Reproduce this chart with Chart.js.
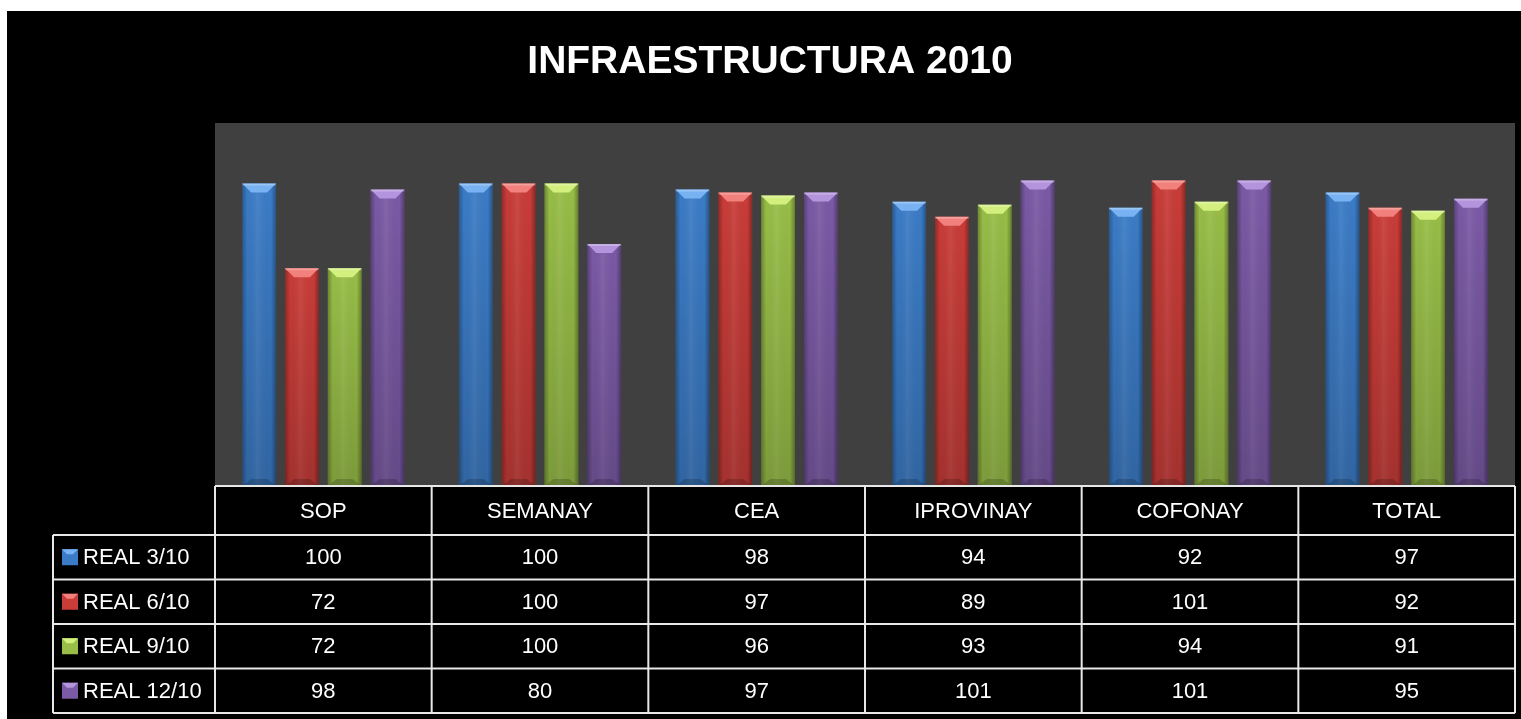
<!DOCTYPE html>
<html>
<head>
<meta charset="utf-8">
<script src="https://cdn.jsdelivr.net/npm/chart.js@4.4.1/dist/chart.umd.min.js"></script>
<style>
  html, body { margin: 0; padding: 0; background: #ffffff; }
  #wrap { width: 1521px; height: 719px; position: relative; }
</style>
</head>
<body>
<div id="wrap"><canvas id="grafica"></canvas></div>
<script>
// datos
const titulo = "INFRAESTRUCTURA 2010";
const categorias = ["SOP", "SEMANAY", "CEA", "IPROVINAY", "COFONAY", "TOTAL"];
const series = ["REAL 3/10", "REAL 6/10", "REAL 9/10", "REAL 12/10"];
const real3 = [100, 100, 98, 94, 92, 97];
const real6 = [72, 100, 97, 89, 101, 92];
const real9 = [72, 100, 96, 93, 94, 91];
const real12 = [98, 80, 97, 101, 101, 95];

const valores = [real3, real6, real9, real12];
const colores = ["#3b7cc7", "#c93c38", "#98be47", "#7b5aa6"];
const coloresTop = ["#78b2f2", "#f2807c", "#d3f07f", "#b394dd"];

const FUENTE = '"Liberation Sans", Arial, sans-serif';

// =======================
// FONDO (marco negro + area gris + titulo)
// =======================
const fondo = {
  id: "fondo",
  beforeDraw(chart) {
    const { ctx, width, height, chartArea: a } = chart;
    ctx.save();
    ctx.fillStyle = "#ffffff";
    ctx.fillRect(0, 0, width, height);
    ctx.fillStyle = "#000000";
    ctx.fillRect(7, 11, width - 7, height - 11);
    ctx.fillStyle = "#404040";
    ctx.fillRect(a.left, a.top, a.right - a.left, a.bottom - a.top);

    ctx.fillStyle = "#ffffff";
    ctx.font = "bold 39px " + FUENTE;
    ctx.textAlign = "center";
    ctx.textBaseline = "middle";
    ctx.fillText(titulo, 770, 62);
    ctx.restore();
  }
};

// =======================
// BISEL DE LAS BARRAS
// =======================
const bisel = {
  id: "bisel",
  afterDatasetsDraw(chart) {
    const ctx = chart.ctx;
    chart.data.datasets.forEach((ds, di) => {
      chart.getDatasetMeta(di).data.forEach(bar => {
        const w = bar.width, l = bar.x - w / 2, r = bar.x + w / 2;
        const t = bar.y, b = bar.base;
        ctx.save();
        // sombreado horizontal
        let g = ctx.createLinearGradient(l, 0, r, 0);
        g.addColorStop(0, "rgba(0,0,0,0.28)");
        g.addColorStop(0.15, "rgba(0,0,0,0)");
        g.addColorStop(0.45, "rgba(255,255,255,0.07)");
        g.addColorStop(0.85, "rgba(0,0,0,0)");
        g.addColorStop(1, "rgba(0,0,0,0.32)");
        ctx.fillStyle = g;
        ctx.fillRect(l, t, w, b - t);
        // oscuro hacia abajo
        g = ctx.createLinearGradient(0, t, 0, b);
        g.addColorStop(0, "rgba(0,0,0,0)");
        g.addColorStop(1, "rgba(0,0,0,0.18)");
        ctx.fillStyle = g;
        ctx.fillRect(l, t, w, b - t);
        // bisel superior
        ctx.fillStyle = coloresTop[di];
        ctx.beginPath();
        ctx.moveTo(l, t);
        ctx.lineTo(r, t);
        ctx.lineTo(r - 9, t + 9);
        ctx.lineTo(l + 9, t + 9);
        ctx.closePath();
        ctx.fill();
        ctx.fillStyle = "rgba(255,255,255,0.25)";
        ctx.fillRect(l, t, w, 2);
        // base
        ctx.fillStyle = "rgba(0,0,0,0.18)";
        ctx.beginPath();
        ctx.moveTo(l + 9, b - 7);
        ctx.lineTo(r - 9, b - 7);
        ctx.lineTo(r, b);
        ctx.lineTo(l, b);
        ctx.closePath();
        ctx.fill();
        ctx.restore();
      });
    });
  }
};

// =======================
// TABLA DE DATOS
// =======================
const tabla = {
  id: "tabla",
  afterDraw(chart) {
    const { ctx, chartArea: a, scales: { x } } = chart;
    const n = categorias.length;
    const colW = (a.right - a.left) / n;
    const headTop = a.bottom;
    const headH = 49;
    const rowH = 44.5;
    const labelLeft = a.left - 162;
    const rowsTop = headTop + headH;
    const bottom = rowsTop + rowH * series.length;

    ctx.save();
    ctx.fillStyle = "#000000";
    ctx.fillRect(a.left, headTop, a.right - a.left, bottom - headTop);
    ctx.fillRect(labelLeft, rowsTop, a.left - labelLeft, bottom - rowsTop);

    ctx.strokeStyle = "#e8e8e8";
    ctx.lineWidth = 2;
    ctx.beginPath();
    // horizontales
    ctx.moveTo(a.left, headTop); ctx.lineTo(a.right, headTop);
    for (let r = 0; r <= series.length; r++) {
      const y = rowsTop + r * rowH;
      ctx.moveTo(labelLeft, y); ctx.lineTo(a.right, y);
    }
    // verticales
    ctx.moveTo(labelLeft, rowsTop); ctx.lineTo(labelLeft, bottom);
    for (let i = 0; i <= n; i++) {
      const xx = a.left + i * colW;
      ctx.moveTo(xx, headTop); ctx.lineTo(xx, bottom);
    }
    ctx.stroke();

    ctx.fillStyle = "#ffffff";
    ctx.font = "22px " + FUENTE;
    ctx.textAlign = "center";
    ctx.textBaseline = "middle";
    categorias.forEach((c, i) => {
      const cx = x.getPixelForValue(i);
      ctx.fillText(c, cx, headTop + headH / 2 + 1);
      valores.forEach((vals, r) => {
        ctx.fillText(String(vals[i]), cx, rowsTop + r * rowH + rowH / 2 + 1);
      });
    });

    // etiquetas con su clave de color
    series.forEach((s, r) => {
      const cy = rowsTop + r * rowH + rowH / 2;
      const kx = labelLeft + 9;
      ctx.fillStyle = colores[r];
      ctx.fillRect(kx, cy - 8, 16, 16);
      ctx.fillStyle = coloresTop[r];
      ctx.beginPath();
      ctx.moveTo(kx, cy - 8); ctx.lineTo(kx + 16, cy - 8);
      ctx.lineTo(kx + 11, cy - 3); ctx.lineTo(kx + 5, cy - 3);
      ctx.closePath();
      ctx.fill();
      ctx.fillStyle = "#ffffff";
      ctx.textAlign = "left";
      ctx.fillText(s, kx + 21, cy + 1);
    });
    ctx.restore();
  }
};

const chart = new Chart(document.getElementById("grafica"), {
  type: "bar",
  data: {
    labels: categorias,
    datasets: series.map((s, i) => ({
      label: s,
      data: valores[i],
      backgroundColor: colores[i],
      borderWidth: 0,
      categoryPercentage: 0.79,
      barPercentage: 0.79
    }))
  },
  options: {
    responsive: true,
    maintainAspectRatio: false,
    animation: false,
    events: [],
    layout: { padding: { left: 215, right: 6, top: 123, bottom: 233 } },
    plugins: {
      legend: { display: false },
      tooltip: { enabled: false },
      title: { display: false }
    },
    scales: {
      x: { display: false, grid: { display: false } },
      y: { display: false, min: 0, max: 120, grid: { display: false } }
    }
  },
  plugins: [fondo, bisel, tabla]
});
</script>
</body>
</html>
